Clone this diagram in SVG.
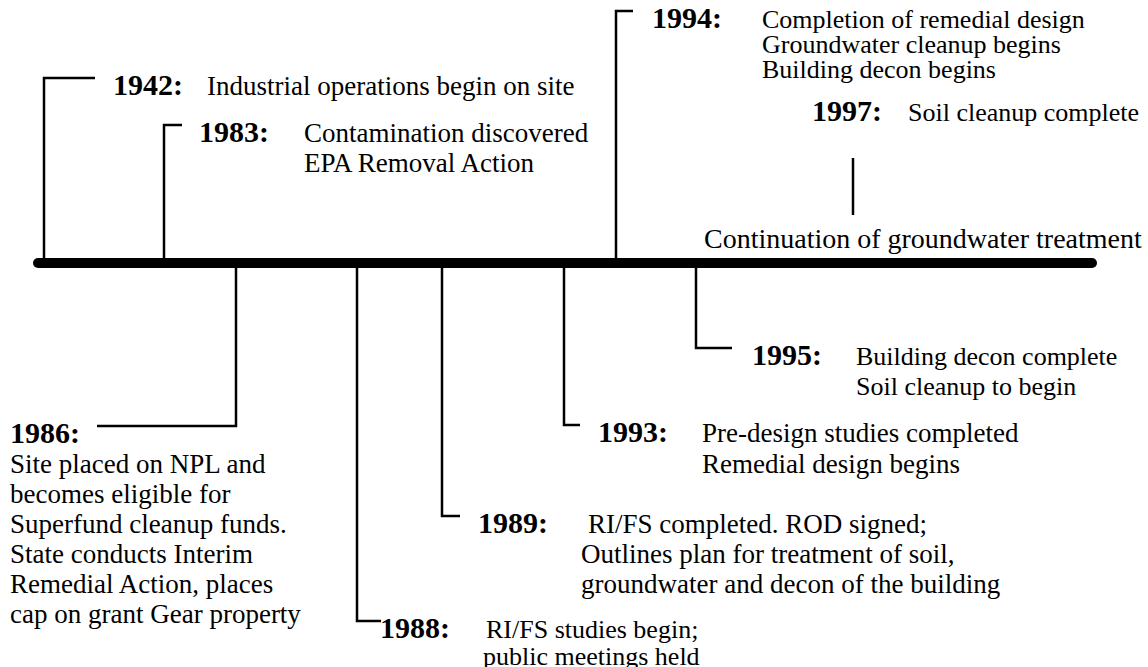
<svg xmlns="http://www.w3.org/2000/svg" width="1148" height="667" viewBox="0 0 1148 667">
  <style>
    .yr { font-family: "Liberation Serif", "Times New Roman", serif; font-weight: bold; font-size: 30px; fill: #000; }
    .tx { font-family: "Liberation Serif", "Times New Roman", serif; font-size: 27px; fill: #000; }
    .sm { font-size: 26px; }
    .lg { font-size: 28px; }
    .ln { fill: none; stroke: #000; stroke-width: 2.5; }
    .bar { fill: none; stroke: #000; stroke-width: 10; stroke-linecap: round; }
  </style>
  <rect width="1148" height="667" fill="#fff"/>

  <!-- timeline axis and leader lines -->
  <g id="connectors">
    <line class="bar" x1="38" y1="263" x2="1092" y2="263"/>
    <polyline class="ln" points="44,263 44,78 95,78"/>
    <polyline class="ln" points="164,263 164,125 182,125"/>
    <polyline class="ln" points="616,263 616,11 633,11"/>
    <line class="ln" x1="853" y1="158" x2="853" y2="215"/>
    <polyline class="ln" points="236,263 236,426 97,426"/>
    <polyline class="ln" points="357,263 357,621 381,621"/>
    <polyline class="ln" points="442,263 442,516 460,516"/>
    <polyline class="ln" points="564,263 564,425 580,425"/>
    <polyline class="ln" points="696,263 696,348 732,348"/>
  </g>

  <g id="e1942">
    <text class="yr" x="113" y="95">1942:</text>
    <text class="tx" x="207" y="95">Industrial operations begin on site</text>
  </g>
  <g id="e1983">
    <text class="yr" x="199" y="142">1983:</text>
    <text class="tx" x="304" y="142">Contamination discovered</text>
    <text class="tx" x="304" y="172">EPA Removal Action</text>
  </g>
  <g id="e1994">
    <text class="yr" x="652" y="28">1994:</text>
    <text class="tx sm" x="762" y="28">Completion of remedial design</text>
    <text class="tx sm" x="762" y="53">Groundwater cleanup begins</text>
    <text class="tx sm" x="762" y="78">Building decon begins</text>
  </g>
  <g id="e1997">
    <text class="yr" x="812" y="121">1997:</text>
    <text class="tx sm" x="908" y="121">Soil cleanup complete</text>
    <text class="tx lg" x="704" y="248">Continuation of groundwater treatment</text>
  </g>
  <g id="e1986">
    <text class="yr" x="10" y="443">1986:</text>
    <text class="tx" x="10" y="473">Site placed on NPL and</text>
    <text class="tx" x="10" y="503">becomes eligible for</text>
    <text class="tx" x="10" y="533">Superfund cleanup funds.</text>
    <text class="tx" x="10" y="563">State conducts Interim</text>
    <text class="tx" x="10" y="593">Remedial Action, places</text>
    <text class="tx" x="10" y="623">cap on grant Gear property</text>
  </g>
  <g id="e1988">
    <text class="yr" x="380" y="638">1988:</text>
    <text class="tx sm" x="486" y="638">RI/FS studies begin;</text>
    <text class="tx sm" x="483" y="665">public meetings held</text>
  </g>
  <g id="e1989">
    <text class="yr" x="478" y="533">1989:</text>
    <text class="tx" x="588" y="533">RI/FS completed. ROD signed;</text>
    <text class="tx" x="581" y="563">Outlines plan for treatment of soil,</text>
    <text class="tx" x="581" y="593">groundwater and decon of the building</text>
  </g>
  <g id="e1993">
    <text class="yr" x="598" y="442">1993:</text>
    <text class="tx" x="702" y="442">Pre-design studies completed</text>
    <text class="tx" x="702" y="473">Remedial design begins</text>
  </g>
  <g id="e1995">
    <text class="yr" x="752" y="365">1995:</text>
    <text class="tx sm" x="856" y="365">Building decon complete</text>
    <text class="tx sm" x="856" y="395">Soil cleanup to begin</text>
  </g>
</svg>
